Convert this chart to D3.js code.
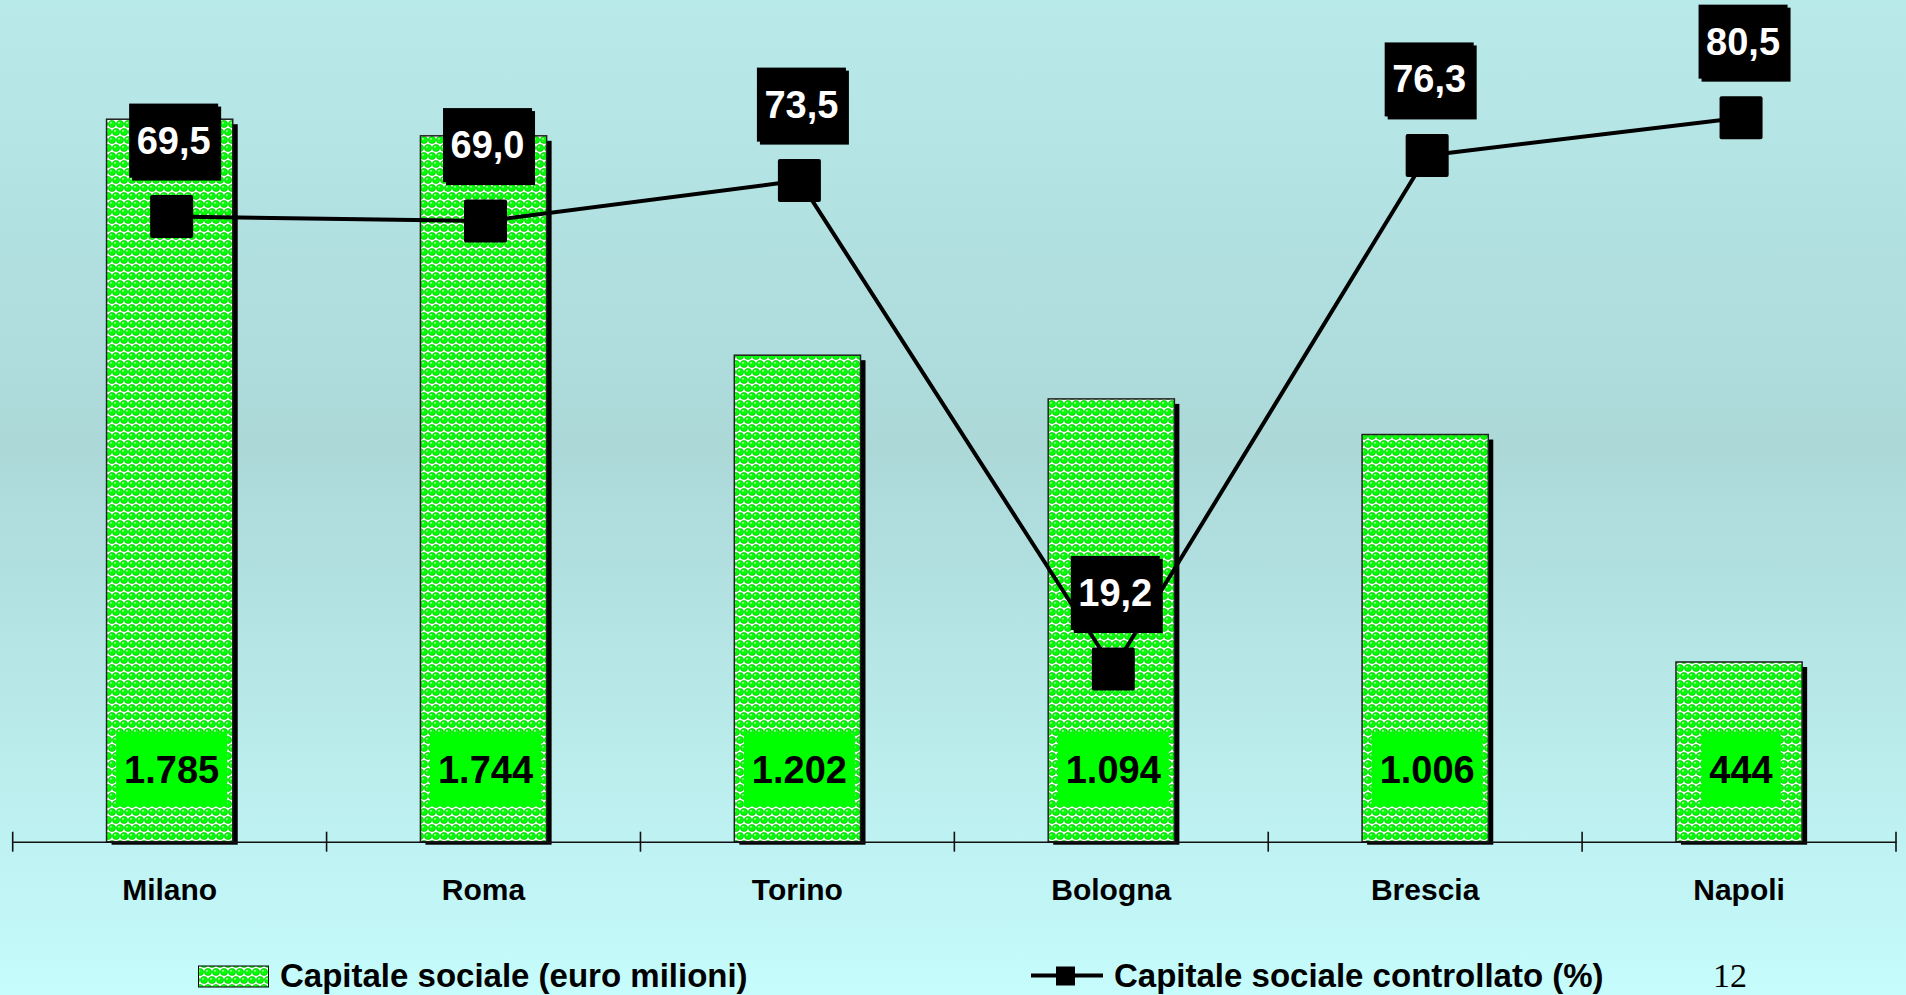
<!DOCTYPE html>
<html>
<head>
<meta charset="utf-8">
<script src="https://cdn.jsdelivr.net/npm/d3@7"></script>
<style>
  html, body { margin: 0; padding: 0; overflow: hidden; background: #c6fafa; }
  svg { display: block; }
</style>
</head>
<body>
<script>
// ---- data ----
const categories = ["Milano", "Roma", "Torino", "Bologna", "Brescia", "Napoli"];
const capitaleSociale = [1785, 1744, 1202, 1094, 1006, 444];       // euro milioni
const capitaleControllato = [69.5, 69.0, 73.5, 19.2, 76.3, 80.5];  // %
const legendLabels = ["Capitale sociale (euro milioni)", "Capitale sociale controllato (%)"];
const pageNumber = "12";

// ---- setup ----
const W = 1906, H = 995;
const svg = d3.select("body").append("svg").attr("width", W).attr("height", H);
const defs = svg.append("defs");

const bg = defs.append("linearGradient").attr("id", "bg").attr("x1", 0).attr("y1", 0).attr("x2", 0).attr("y2", 1);
bg.append("stop").attr("offset", "0%").attr("stop-color", "#b9eaea");
bg.append("stop").attr("offset", "45%").attr("stop-color", "#acd8d8");
bg.append("stop").attr("offset", "100%").attr("stop-color", "#c6fcfc");
svg.append("rect").attr("width", W).attr("height", H).attr("fill", "url(#bg)");

// bubble pattern: rows of bubbles, alternate rows shifted by half a step
const pat = defs.append("pattern").attr("id", "bubbles").attr("patternUnits", "userSpaceOnUse")
  .attr("width", 8).attr("height", 16);
pat.append("rect").attr("width", 8).attr("height", 16).attr("fill", "#ffffff");
[[4, 4], [0, 12], [8, 12], [4, 20], [4, -4], [0, -4], [8, 20]].forEach(([cx, cy]) => {
  pat.append("circle").attr("cx", cx).attr("cy", cy).attr("r", 3.6)
    .attr("fill", "#00ff00").attr("stroke", "#00b000").attr("stroke-width", 0.6);
});
[[4, 4], [0, 12], [8, 12]].forEach(([cx, cy]) => {
  pat.append("circle").attr("cx", cx - 1.1).attr("cy", cy - 1.2).attr("r", 0.9).attr("fill", "#d0ffd0");
});

const FONT = "'Liberation Sans', Arial, sans-serif";
const itLocale = d3.formatLocale({ decimal: ",", thousands: ".", grouping: [3], currency: ["€", ""] });
const fmtInt = itLocale.format(",d");
const fmtPct = itLocale.format(".1f");

// ---- scales ----
const axisY = 841.7;
const x = d3.scaleBand().domain(categories).range([12.7, 1896]).padding(0);
const y = d3.scaleLinear().domain([0, 2000]).range([axisY, 32.2]);
const y2 = d3.scaleLinear().domain([0, 90]).range([axisY, 32.2]);
const barW = x.bandwidth() * 0.402;
const cx = c => x(c) + x.bandwidth() / 2;

const data = categories.map((c, i) => ({ c, v: capitaleSociale[i], p: capitaleControllato[i] }));

// ---- bars ----
const gBars = svg.append("g");
gBars.selectAll("rect.shadow").data(data).join("rect")
  .attr("x", d => cx(d.c) - barW / 2 + 5)
  .attr("y", d => y(d.v) + 5)
  .attr("width", barW)
  .attr("height", d => axisY - y(d.v) - 2)
  .attr("fill", "#000");
gBars.selectAll("rect.bar").data(data).join("rect")
  .attr("x", d => cx(d.c) - barW / 2)
  .attr("y", d => y(d.v))
  .attr("width", barW)
  .attr("height", d => axisY - y(d.v))
  .attr("fill", "url(#bubbles)")
  .attr("stroke", "#222").attr("stroke-width", 1.5);

// ---- axis ----
const xAxis = d3.axisBottom(x).tickSize(0).tickFormat("");
const gAx = svg.append("g").attr("transform", `translate(0,${axisY})`).call(xAxis);
gAx.select(".domain").attr("stroke", "#111").attr("stroke-width", 1.6);
const boundaries = categories.map(c => x(c)).concat([x.range()[1]]);
gAx.selectAll("line.bt").data(boundaries).join("line").attr("class", "bt")
  .attr("x1", d => d).attr("x2", d => d).attr("y1", -10).attr("y2", 10)
  .attr("stroke", "#111").attr("stroke-width", 1.6);

svg.append("g").selectAll("text").data(data).join("text")
  .attr("x", d => cx(d.c)).attr("y", 900)
  .attr("text-anchor", "middle")
  .attr("font-family", FONT).attr("font-weight", "bold").attr("font-size", 30)
  .attr("fill", "#000")
  .text(d => d.c);

// ---- bar value labels ----
const gBL = svg.append("g");
data.forEach(d => {
  const t = gBL.append("text")
    .attr("x", cx(d.c) + 2).attr("y", 770)
    .attr("text-anchor", "middle").attr("dominant-baseline", "central")
    .attr("font-family", FONT).attr("font-weight", "bold").attr("font-size", 38)
    .attr("fill", "#000").text(fmtInt(d.v));
  const bb = t.node().getBBox();
  gBL.insert("rect", "text")
    .attr("x", bb.x - 8).attr("y", 770 - 36.5)
    .attr("width", bb.width + 16).attr("height", 73)
    .attr("fill", "#00ff00");
});

// ---- line ----
const line = d3.line().x(d => cx(d.c) + 2).y(d => y2(d.p));
svg.append("path").datum(data).attr("d", line)
  .attr("fill", "none").attr("stroke", "#000").attr("stroke-width", 4).attr("stroke-linejoin", "round");

const mk = 43;
svg.append("g").selectAll("rect").data(data).join("rect")
  .attr("x", d => cx(d.c) + 2 - mk / 2).attr("y", d => y2(d.p) - mk / 2)
  .attr("width", mk).attr("height", mk).attr("rx", 2)
  .attr("fill", "#000");

// ---- percent labels ----
const gPL = svg.append("g");
const bw = 89, bh = 74;
data.forEach(d => {
  const px = cx(d.c) + 4, py = y2(d.p) - 76;
  gPL.append("rect").attr("x", px - bw / 2 + 3).attr("y", py - bh / 2 + 3)
    .attr("width", bw).attr("height", bh).attr("fill", "#000");
  gPL.append("rect").attr("x", px - bw / 2).attr("y", py - bh / 2)
    .attr("width", bw).attr("height", bh).attr("fill", "#000");
  gPL.append("text").attr("x", px).attr("y", py)
    .attr("text-anchor", "middle").attr("dominant-baseline", "central")
    .attr("font-family", FONT).attr("font-weight", "bold").attr("font-size", 38)
    .attr("fill", "#fff").text(fmtPct(d.p));
});

// ---- legend ----
const gL = svg.append("g");
gL.append("rect").attr("x", 198.5).attr("y", 966).attr("width", 70).attr("height", 21)
  .attr("fill", "url(#bubbles)").attr("stroke", "#000").attr("stroke-width", 1);
gL.append("text").attr("x", 280).attr("y", 987)
  .attr("font-family", FONT).attr("font-weight", "bold").attr("font-size", 33)
  .attr("fill", "#000").text(legendLabels[0]);

gL.append("line").attr("x1", 1031).attr("x2", 1103).attr("y1", 975.5).attr("y2", 975.5)
  .attr("stroke", "#000").attr("stroke-width", 4);
gL.append("rect").attr("x", 1056).attr("y", 966.5).attr("width", 19).attr("height", 19).attr("fill", "#000");
gL.append("text").attr("x", 1114).attr("y", 987)
  .attr("font-family", FONT).attr("font-weight", "bold").attr("font-size", 33)
  .attr("fill", "#000").text(legendLabels[1]);

svg.append("text").attr("x", 1713).attr("y", 987)
  .attr("font-family", "'Liberation Serif', 'Times New Roman', serif").attr("font-size", 34)
  .attr("fill", "#000").text(pageNumber);
</script>
</body>
</html>
